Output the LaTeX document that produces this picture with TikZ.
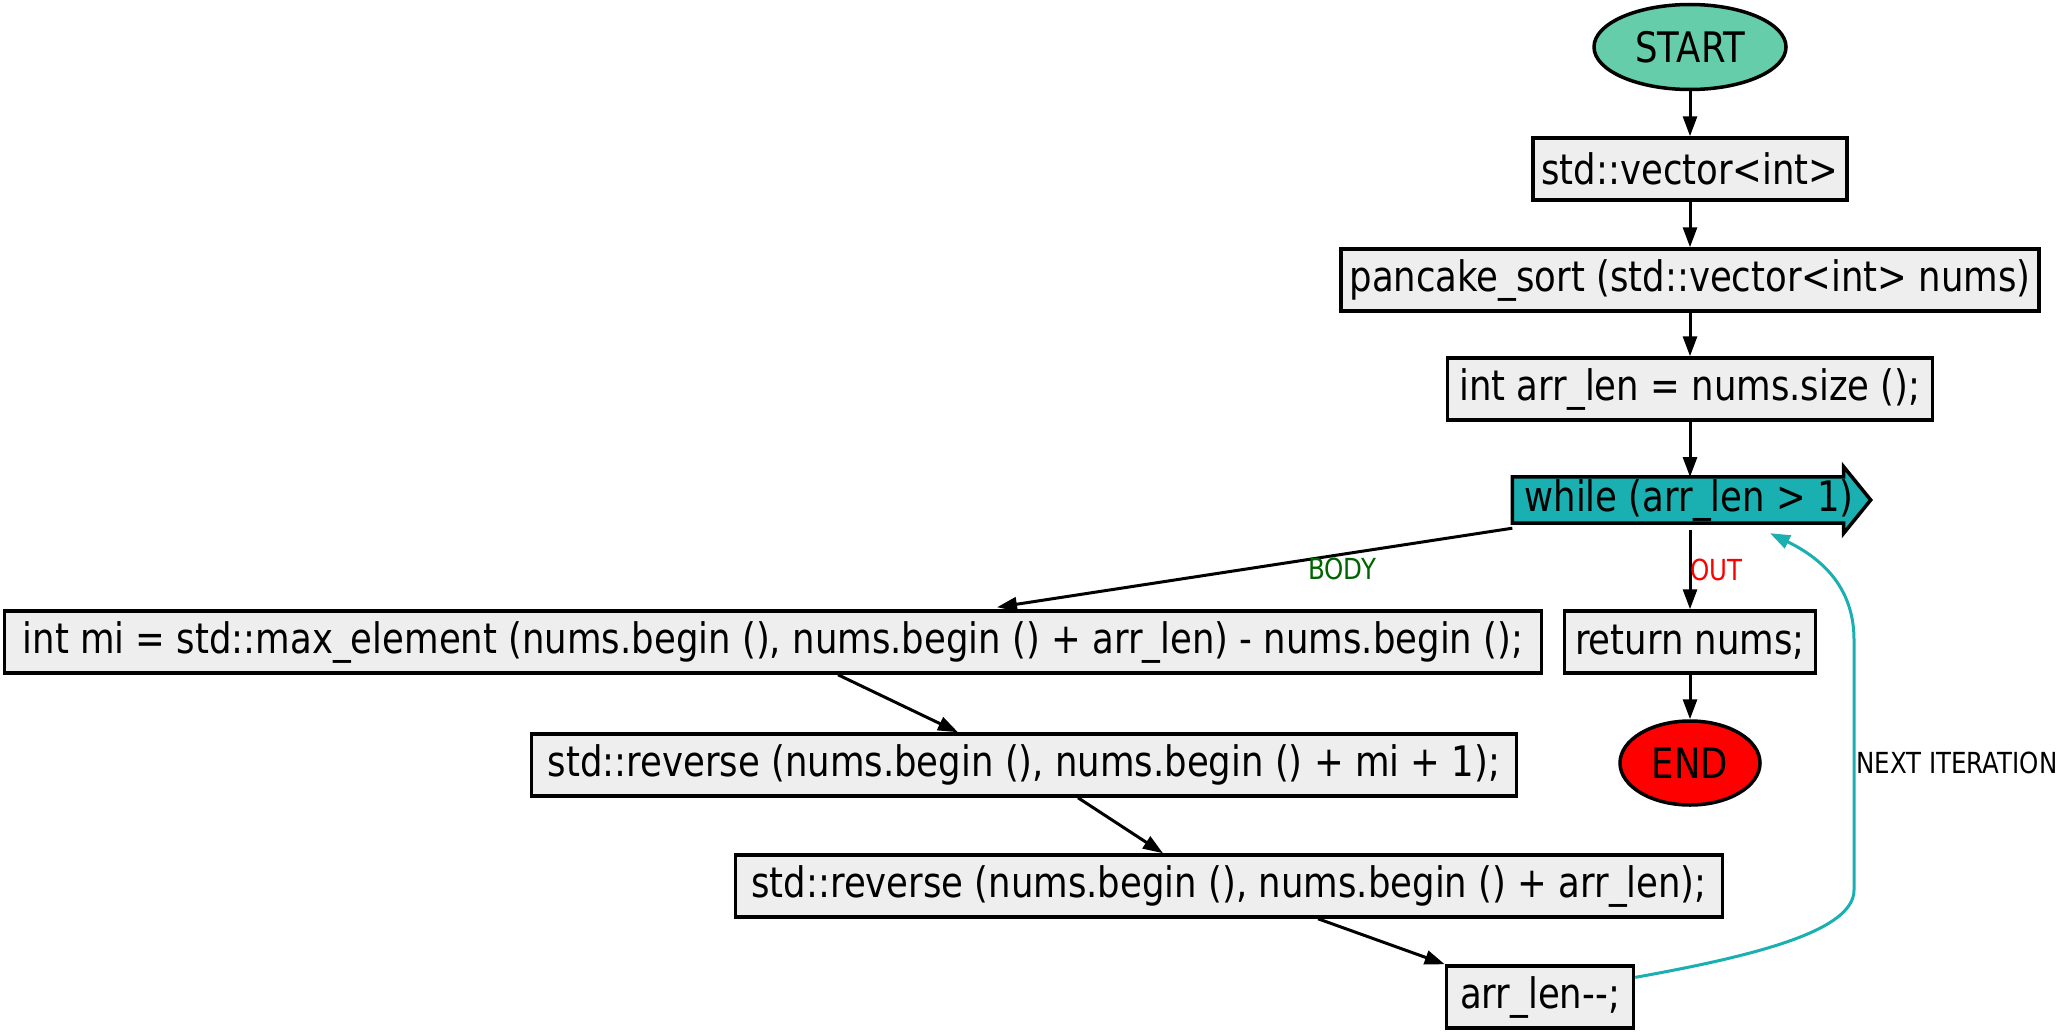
\documentclass[tikz,border=0pt]{standalone}
\usepackage{fontspec}
\setmainfont{DejaVu Sans}[FakeStretch=0.845]
\usetikzlibrary{arrows.meta,calc,shapes.geometric}
\definecolor{boxgray}{HTML}{EEEEEE}
\definecolor{loopteal}{HTML}{1AAFB0}
\definecolor{startgreen}{HTML}{66CDAA}
\definecolor{bodygreen}{HTML}{006400}
\tikzset{
  proc/.style={draw=black, line width=3.5pt, fill=boxgray, minimum height=62pt,
    inner xsep=6pt, inner ysep=0pt, font=\fontsize{42}{50}\selectfont},
  term/.style={ellipse, draw=black, line width=3.5pt, inner sep=0pt,
    font=\fontsize{42}{50}\selectfont},
  flow/.style={line width=3pt, -{Triangle[length=20pt,width=14pt]}},
  lbl/.style={font=\fontsize{29}{33}\selectfont, inner sep=0pt},
}
\begin{document}
\begin{tikzpicture}[x=1pt,y=-1pt]
\useasboundingbox[fill=white] (0,0) rectangle (2066,1033);
\node[term, fill=startgreen, minimum width=192pt, minimum height=85pt] (start) at (1690,47) {START};
\node[proc, minimum width=314pt] (vec) at (1690,169) {std::vector<int>};
\node[proc, minimum width=698pt] (ps) at (1690,280) {pancake\_sort (std::vector<int> nums)};
\node[proc, minimum width=485pt] (len) at (1690,389) {int arr\_len = nums.size ();};
\node[fill=loopteal, minimum width=331pt, minimum height=46pt, inner sep=0pt] (while) at (1678,500) {};
\draw[line width=3.5pt, fill=loopteal, line join=miter]
  (while.north west) -- (while.north east) -- ++(0,-10) -- ($(while.east)+(27,0)$)
  -- ($(while.south east)+(0,10)$) -- (while.south east) -- (while.south west) -- cycle;
\node[font=\fontsize{42}{50}\selectfont, inner sep=0pt, anchor=west] (whilet) at ($(while.west)+(12,0)$) {while (arr\_len > 1)};
\node[proc, minimum width=1537pt] (mi) at (773,642) {int mi = std::max\_element (nums.begin (), nums.begin () + arr\_len) - nums.begin ();};
\node[proc, minimum width=251pt] (ret) at (1690,642) {return nums;};
\node[term, fill=red, minimum width=140pt, minimum height=84pt] (end) at (1690,763) {END};
\node[proc, minimum width=985pt] (rev1) at (1024,765) {std::reverse (nums.begin (), nums.begin () + mi + 1);};
\node[proc, minimum width=987pt] (rev2) at (1229,886) {std::reverse (nums.begin (), nums.begin () + arr\_len);};
\node[proc, minimum width=187pt] (dec) at (1540,997) {arr\_len-\kern0pt-;};

\draw[flow] (start) -- (vec);
\draw[flow] (vec) -- (ps);
\draw[flow] (ps) -- (len);
\draw[flow] (len) -- (1690,477);
\draw[flow] ($(while.south west)+(0,5)$) -- ($(mi.north)+(224,-2)$)
  node[lbl, text=bodygreen, pos=0.33, below, yshift=-2pt] (bodyl) {BODY};
\draw[flow] (1690,530) -- (ret.north)
  node[lbl, text=red, midway, right, xshift=-1pt] (outl) {OUT};
\draw[flow] (ret) -- (end);
\draw[flow] ($(mi.south)+(65,0)$) -- ($(rev1.north)+(-66,0)$);
\draw[flow] ($(rev1.south)+(54,0)$) -- ($(rev2.north)+(-66,0)$);
\draw[flow] ($(rev2.south)+(89,0)$) -- (dec.north west);
\coordinate (loopend) at ($(while.south)+(92,10)$);
\draw[line width=3pt, loopteal, -{Triangle[length=20pt,width=14pt]}]
  ($(dec.north east)!0.2!(dec.south east)$) .. controls (1760,955) and (1854,930) .. (1854,890)
  -- (1854,640) .. controls (1854,590) and (1825,560) .. (loopend);
\node[lbl, anchor=west] (nextl) at (1856,763) {NEXT ITERATION};
\end{tikzpicture}
\end{document}
